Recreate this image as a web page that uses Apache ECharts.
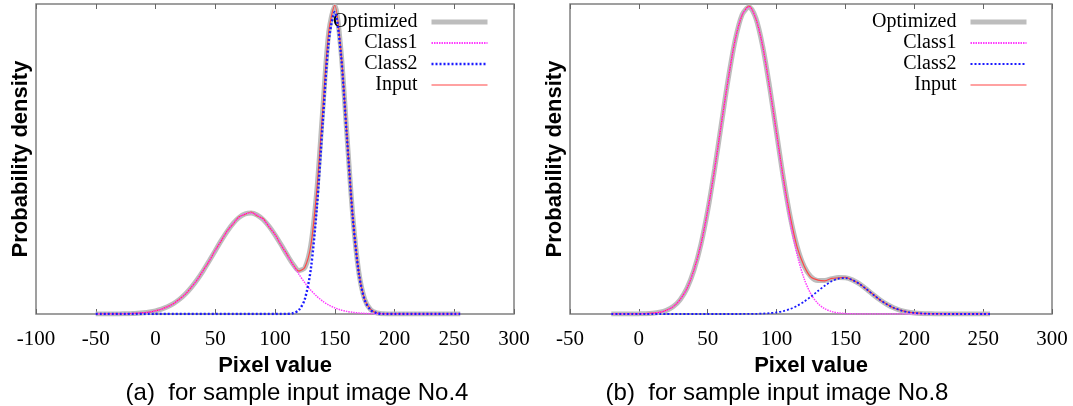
<!DOCTYPE html>
<html>
<head>
<meta charset="utf-8">
<script src="https://cdn.jsdelivr.net/npm/echarts@6/dist/echarts.min.js"></script>
<style>
html, body { margin: 0; padding: 0; background: #fff; }
#wrap { position: relative; width: 1073px; height: 406px; }
.panel { position: absolute; top: 0; height: 406px; }
#chartA { left: 0; width: 536px; }
#chartB { left: 536px; width: 537px; }
</style>
</head>
<body>
<div id="wrap">
    <div id="chartA" class="panel"></div>
    <div id="chartB" class="panel"></div>
</div>
<script>
/**
 * 两个直方图拟合结果 (a) No.4, (b) No.8
 */

var legendNames = ['Optimized', 'Class1', 'Class2', 'Input'];
var xTicksA = [-100, -50, 0, 50, 100, 150, 200, 250, 300];
var xTicksB = [-50, 0, 50, 100, 150, 200, 250, 300];

// (a) sample input image No.4
var pixelA = [-50,-45,-40,-35,-30,-25,-20,-15,-10,-5,0,5,10,15,20,25,30,35,40,45,50,55,60,65,70,75,80,85,90,95,
    100,105,110,115,120,125,130,135,140,145,150,155,160,165,170,175,180,185,190,195,200,205,210,215,220,225,230,235,240,245,250,255];
var class1A = [0.0000,0.0001,0.0001,0.0002,0.0004,0.0008,0.0014,0.0024,0.0040,0.0065,
    0.0102,0.0156,0.0231,0.0335,0.0471,0.0645,0.0859,0.1112,0.1400,0.1715,
    0.2043,0.2367,0.2667,0.2924,0.3117,0.3231,0.3258,0.3195,0.3048,0.2828,
    0.2552,0.2239,0.1911,0.1587,0.1281,0.1006,0.0768,0.0571,0.0413,0.0290,
    0.0198,0.0132,0.0085,0.0054,0.0033,0.0019,0.0011,0.0006,0.0004,0.0002,
    0.0001,0,0,0,0,0,0,0,0,0,0,0];
var class2A = [0,0,0,0,0,0,0,0,0,0,
    0,0,0,0,0,0,0,0,0,0,
    0,0,0,0,0,0,0,0,0,0,
    0.0000,0.0001,0.0004,0.0025,0.0126,0.0485,0.1458,0.3410,0.6210,0.8810,
    0.9740,0.8450,0.5800,0.3150,0.1350,0.0460,0.0130,0.0030,0.0005,0.0001,
    0,0,0,0,0,0,0,0,0,0,0,0];
var optimizedA = [0.0000,0.0001,0.0001,0.0002,0.0004,0.0008,0.0014,0.0024,0.0040,0.0065,
    0.0102,0.0156,0.0231,0.0335,0.0471,0.0645,0.0859,0.1112,0.1400,0.1715,
    0.2043,0.2367,0.2667,0.2924,0.3117,0.3231,0.3258,0.3195,0.3048,0.2828,
    0.2552,0.2240,0.1915,0.1612,0.1407,0.1491,0.2226,0.3981,0.6623,0.9100,
    0.9938,0.8582,0.5885,0.3204,0.1383,0.0479,0.0141,0.0036,0.0009,0.0003,
    0.0001,0,0,0,0,0,0,0,0,0,0,0];
var inputA = [0.0000,0.0001,0.0002,0.0002,0.0005,0.0007,0.0015,0.0023,0.0042,0.0063,
    0.0105,0.0152,0.0236,0.0330,0.0478,0.0640,0.0866,0.1105,0.1410,0.1706,
    0.2055,0.2358,0.2680,0.2910,0.3140,0.3215,0.3290,0.3170,0.3080,0.2810,
    0.2570,0.2225,0.1930,0.1598,0.1385,0.1510,0.2210,0.4000,0.6600,0.9120,
    0.9960,0.8560,0.5900,0.3190,0.1395,0.0470,0.0148,0.0032,0.0011,0.0002,
    0.0001,0.0001,0,0.0001,0,0,0.0001,0,0,0.0001,0,0];

// (b) sample input image No.8
var pixelB = [-20,-15,-10,-5,0,5,10,15,20,25,30,35,40,45,50,55,60,65,70,75,80,85,90,95,
    100,105,110,115,120,125,130,135,140,145,150,155,160,165,170,175,180,185,190,195,200,205,210,215,220,225,230,235,240,245,250,255];
var class1B = [0,0,0,0.0001,
    0.0004,0.0010,0.0024,0.0055,0.0118,0.0242,0.0463,0.0834,0.1409,0.2234,
    0.3335,0.4676,0.6157,0.7614,0.8846,0.9656,0.9900,0.9530,0.8600,0.7280,
    0.5780,0.4280,0.2950,0.1900,0.1140,0.0640,0.0340,0.0170,0.0080,0.0035,
    0.0014,0.0005,0.0002,0.0001,0,0,0,0,0,0,
    0,0,0,0,0,0,0,0,0,0,0,0];
var class2B = [0,0,0,0,
    0,0,0,0,0,0,0,0,0,0,
    0,0,0,0,0.0000,0.0001,0.0002,0.0006,0.0013,0.0027,
    0.0053,0.0096,0.0165,0.0265,0.0398,0.0561,0.0740,0.0913,0.1055,0.1142,
    0.1157,0.1097,0.0975,0.0811,0.0631,0.0461,0.0314,0.0201,0.0120,0.0067,
    0.0035,0.0017,0.0008,0.0003,0.0001,0,0,0,0,0,0,0];
var optimizedB = [0,0,0,0.0001,
    0.0004,0.0010,0.0024,0.0055,0.0118,0.0242,0.0463,0.0834,0.1409,0.2234,
    0.3335,0.4676,0.6157,0.7614,0.8846,0.9657,0.9902,0.9536,0.8613,0.7307,
    0.5833,0.4376,0.3115,0.2165,0.1538,0.1201,0.1080,0.1083,0.1135,0.1177,
    0.1171,0.1102,0.0977,0.0812,0.0631,0.0461,0.0314,0.0201,0.0120,0.0067,
    0.0035,0.0017,0.0008,0.0003,0.0001,0,0,0,0,0,0,0];
var inputB = [0,0.0001,0,0.0002,
    0.0005,0.0009,0.0026,0.0053,0.0121,0.0238,0.0468,0.0829,0.1415,0.2228,
    0.3342,0.4668,0.6165,0.7605,0.8860,0.9640,0.9930,0.9520,0.8625,0.7295,
    0.5845,0.4365,0.3128,0.2150,0.1552,0.1188,0.1095,0.1070,0.1150,0.1165,
    0.1185,0.1095,0.0985,0.0805,0.0638,0.0455,0.0320,0.0196,0.0124,0.0064,
    0.0037,0.0015,0.0010,0.0002,0.0002,0,0.0001,0,0,0.0001,0,0];

var SERIF = '"Liberation Serif", "Times New Roman", serif';
var SANS = '"Liberation Sans", Arial, sans-serif';

function pairs(xs, ys) {
    return xs.map(function (x, i) { return [x, ys[i]]; });
}

function xAxisOf(ticks, top) {
    return {
        type: 'value',
        position: top ? 'top' : 'bottom',
        min: ticks[0],
        max: ticks[ticks.length - 1],
        interval: 50,
        axisLine: { show: false },
        axisTick: { show: true, inside: true, length: 5, lineStyle: { color: '#666', width: 1 } },
        axisLabel: { show: !top, fontFamily: SERIF, fontSize: 21, color: '#000', margin: 15 },
        splitLine: { show: false },
        name: top ? '' : 'Pixel value',
        nameLocation: 'middle',
        nameGap: 34,
        nameTextStyle: { fontFamily: SANS, fontWeight: 'bold', fontSize: 22, color: '#000' }
    };
}

//创建一个面板
function createPanel(el, cfg) {
    var chart = echarts.init(el);
    chart.setOption({
        animation: false,
        backgroundColor: '#fff',
        grid: {
            left: cfg.gridLeft, right: cfg.gridRight, top: 4, bottom: 92,
            show: true, borderColor: '#808080', borderWidth: 1.5
        },
        legend: {
            data: [
                { name: 'Optimized', lineStyle: { width: 5 } },
                { name: 'Class1', lineStyle: { width: 1.8 } },
                { name: 'Class2', lineStyle: { width: cfg.class2Width } },
                { name: 'Input', lineStyle: { width: 1.2 } }
            ],
            orient: 'vertical',
            align: 'right',
            right: cfg.legendRight,
            top: 7,
            itemWidth: 56,
            itemHeight: 10,
            itemGap: 1,
            itemStyle: { opacity: 0 },
            textStyle: { fontFamily: SERIF, fontSize: 20, color: '#000', lineHeight: 20, padding: [0, 9, 0, 0] }
        },
        xAxis: [xAxisOf(cfg.ticks, false), xAxisOf(cfg.ticks, true)],
        yAxis: {
            type: 'value', min: 0, max: 1,
            axisLine: { show: false }, axisTick: { show: false },
            axisLabel: { show: false }, splitLine: { show: false },
            name: 'Probability density', nameLocation: 'middle', nameGap: 4,
            nameTextStyle: { fontFamily: SANS, fontWeight: 'bold', fontSize: 22, color: '#000' }
        },
        graphic: [{
            type: 'text', x: cfg.captionX, y: 393,
            style: { text: cfg.caption, fontFamily: SANS, fontSize: 24, fill: '#000', align: 'center', verticalAlign: 'middle' }
        }],
        series: [{
            name: 'Optimized', type: 'line', symbol: 'none', smooth: 0.3, z: 1,
            data: pairs(cfg.xs, cfg.optimized),
            lineStyle: { color: '#bdbdbd', width: 5 }, itemStyle: { color: '#bdbdbd' }
        }, {
            name: 'Input', type: 'line', symbol: 'none', smooth: 0.3, z: 2,
            data: pairs(cfg.xs, cfg.input),
            lineStyle: { color: '#ff4545', width: 1.2 }, itemStyle: { color: '#ff4545' }
        }, {
            name: 'Class1', type: 'line', symbol: 'none', smooth: 0.3, z: 3,
            data: pairs(cfg.xs, cfg.class1),
            lineStyle: { color: '#ff3cff', width: 1.5, type: [1.5, 1] }, itemStyle: { color: '#ff3cff' }
        }, {
            name: 'Class2', type: 'line', symbol: 'none', smooth: 0.3, z: 4,
            data: pairs(cfg.xs, cfg.class2),
            lineStyle: { color: '#1a1aff', width: cfg.class2Width, type: [2, 2] }, itemStyle: { color: '#1a1aff' }
        }]
    });
    return chart;
}

createPanel(document.getElementById('chartA'), {
    xs: pixelA, class1: class1A, class2: class2A, optimized: optimizedA, input: inputA,
    ticks: xTicksA, gridLeft: 36, gridRight: 22, legendRight: 41, class2Width: 2.4,
    caption: '(a)  for sample input image No.4', captionX: 297
});
createPanel(document.getElementById('chartB'), {
    xs: pixelB, class1: class1B, class2: class2B, optimized: optimizedB, input: inputB,
    ticks: xTicksB, gridLeft: 34, gridRight: 21, legendRight: 39, class2Width: 1.8,
    caption: '(b)  for sample input image No.8', captionX: 241
});
</script>
</body>
</html>
